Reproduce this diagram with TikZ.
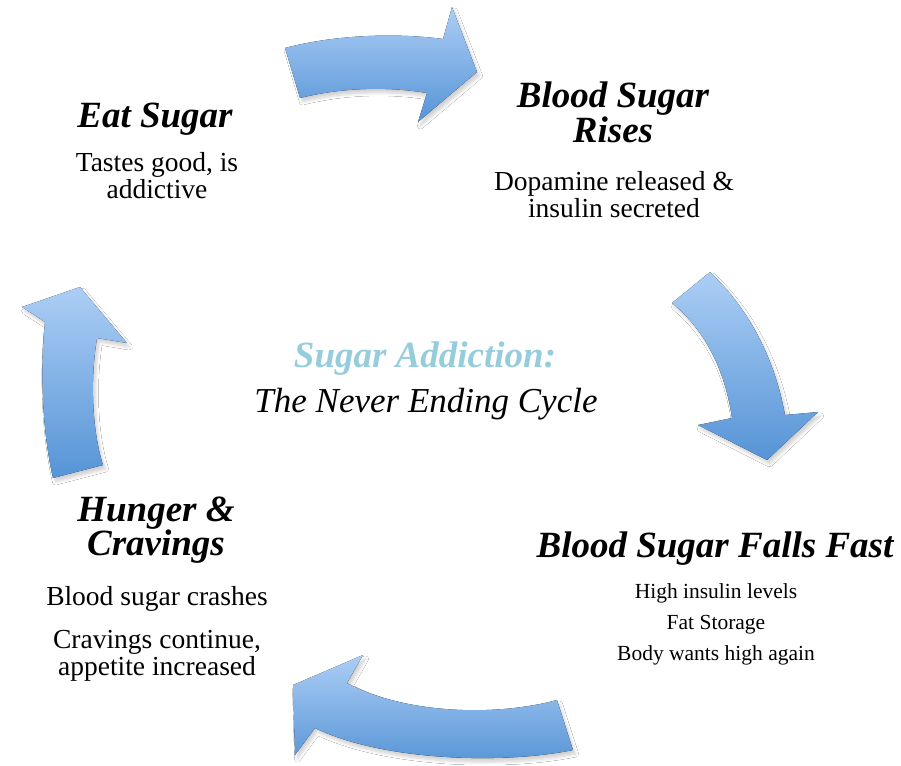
\documentclass[tikz,border=0pt]{standalone}
\usepackage{fontspec}
\setmainfont{Liberation Serif}
\usetikzlibrary{positioning,shadows.blur}
\definecolor{ArrowLight}{RGB}{172,206,245}
\definecolor{ArrowDark}{RGB}{86,148,214}
\definecolor{TitleBlue}{HTML}{96CDDC}
\tikzstyle{cycle_arrow}=[top color=ArrowLight,
        bottom color=ArrowDark,
        draw=none,
        blur shadow={shadow xshift=2.5pt, shadow yshift=-4pt, shadow opacity=18,
            shadow blur radius=3pt, shadow blur steps=6}]
\tikzstyle{cycle_title}=[inner sep=0pt, anchor=base, align=center,
        font=\fontsize{37}{34}\selectfont\bfseries\itshape]
\tikzstyle{cycle_text}=[inner sep=0pt, anchor=base, align=center,
        font=\fontsize{27.5}{27}\selectfont]
\tikzstyle{cycle_small}=[inner sep=0pt, anchor=base, align=center,
        font=\fontsize{21.5}{31}\selectfont]

\begin{document}
\begin{tikzpicture}[x=1pt, y=-1pt]
    \useasboundingbox[fill=white] (0,0) rectangle (901,765);

    % arrows round the cycle
    \fill[cycle_arrow] (285,48) .. controls (330,36) and (390,32) .. (443,39) -- (452,7) -- (477,72)
        -- (418,122) -- (427,93) .. controls (385,86) and (340,88) .. (300,98) -- cycle;
    \fill[cycle_arrow] (710,272) .. controls (750,310) and (775,360) .. (785,415) -- (818,412)
        -- (767,460) -- (698,425) -- (732,418) .. controls (725,370) and (705,330) .. (672,303) -- cycle;
    \fill[cycle_arrow] (557,700) .. controls (490,718) and (400,712) .. (347,683) -- (363,655)
        -- (293,685) -- (295,755) -- (315,728) .. controls (380,760) and (500,765) .. (573,750) -- cycle;
    \fill[cycle_arrow] (53,478) .. controls (42,430) and (40,370) .. (45,322) -- (22,307) -- (80,287)
        -- (127,343) -- (97,338) .. controls (90,380) and (92,430) .. (103,465) -- cycle;

    % steps (base = last line)
    \node at (155,127) (eat) [cycle_title] {Eat Sugar};
    \node at (157,198) (eat-text) [cycle_text] {Tastes good, is\\addictive};
    \node at (613,142) (rises) [cycle_title] {Blood Sugar\\Rises};
    \node at (614,217) (rises-text) [cycle_text] {Dopamine released \&\\insulin secreted};
    \node at (715,557) (falls) [cycle_title] {Blood Sugar Falls Fast};
    \node at (716,660) (falls-text) [cycle_small] {High insulin levels\\Fat Storage\\Body wants high again};
    \node at (156,555) (hunger) [cycle_title] {Hunger \&\\Cravings};
    \node at (157,605) (hunger-text) [cycle_text] {Blood sugar crashes};
    \node at (157,675) (hunger-more) [cycle_text] {Cravings continue,\\appetite increased};

    % centre
    \node at (425,367) (centre) [cycle_title, text=TitleBlue] {Sugar Addiction:};
    \node at (426,412) (centre-sub) [cycle_title, font=\fontsize{35}{35}\selectfont\itshape] {The Never Ending Cycle};
\end{tikzpicture}
\end{document}
